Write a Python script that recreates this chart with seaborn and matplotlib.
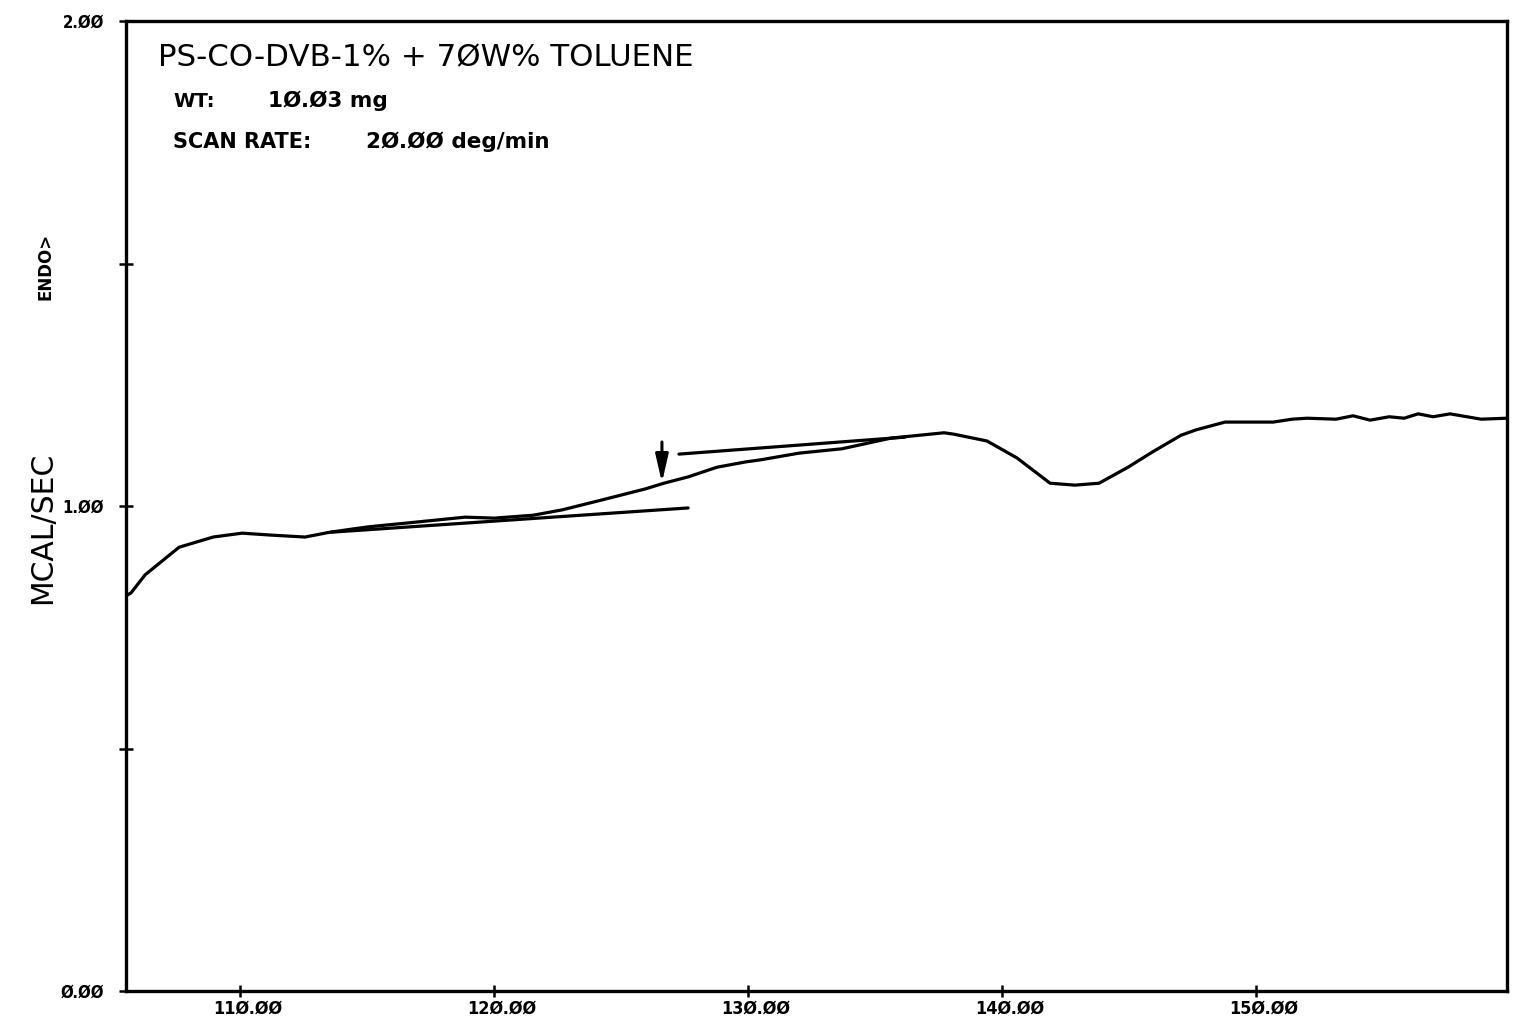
import numpy as np
import pandas as pd
import matplotlib
matplotlib.use("Agg")
import matplotlib.pyplot as plt
import matplotlib.transforms as mtransforms
from matplotlib.ticker import FixedLocator, FuncFormatter
import seaborn as sns

# DSC trace: temperature (deg) vs heat flow (mcal/sec)
temperature = [105.55, 105.71, 106.26, 107.60, 108.94, 110.08, 111.22, 112.56,
               113.54, 115.04, 116.97, 118.86, 120.00, 121.54, 122.68, 124.21,
               125.94, 126.69, 127.64, 128.78, 129.92, 130.47, 132.01, 133.70,
               135.63, 137.72, 138.11, 139.41, 140.59, 141.89, 142.87, 143.82,
               144.96, 145.91, 147.05, 147.64, 148.78, 150.67, 151.42, 152.01,
               153.15, 153.82, 154.49, 155.24, 155.83, 156.38, 156.97, 157.64,
               158.86, 159.88]
heat_flow = [0.816, 0.821, 0.858, 0.915, 0.936, 0.944, 0.940, 0.936,
             0.946, 0.957, 0.967, 0.977, 0.975, 0.981, 0.992, 1.012,
             1.035, 1.047, 1.060, 1.080, 1.091, 1.095, 1.109, 1.118,
             1.140, 1.151, 1.148, 1.134, 1.099, 1.047, 1.043, 1.047,
             1.080, 1.111, 1.146, 1.157, 1.173, 1.173, 1.179, 1.181,
             1.179, 1.186, 1.177, 1.184, 1.181, 1.190, 1.184, 1.190,
             1.179, 1.181]

# baseline tangents around the glass transition
lower_tangent_x = [113.6, 127.64]
lower_tangent_y = [0.946, 0.996]
upper_tangent_x = [127.28, 136.18]
upper_tangent_y = [1.107, 1.142]

# Tg marker arrow (x, y_start, y_end)
tg_arrow_x = 126.61
tg_arrow_y = (1.132, 1.048)

x_ticks = [110, 120, 130, 140, 150]
y_ticks = [0.0, 0.5, 1.0, 1.5, 2.0]
y_labeled = [0.0, 1.0, 2.0]

title_text = "PS-CO-DVB-1% + 7ØW% TOLUENE"
weight_label, weight_value = "WT:", "1Ø.Ø3 mg"
rate_label, rate_value = "SCAN RATE:", "2Ø.ØØ deg/min"
y_label = "MCAL/SEC"
endo_label = "ENDO>"

sns.set_theme(style="white")
plt.rcParams["font.family"] = ["DejaVu Sans"]
plt.rcParams["text.color"] = "black"
plt.rcParams["xtick.color"] = "black"
plt.rcParams["ytick.color"] = "black"

W, H = 1519, 1025
fig = plt.figure(figsize=(W / 100, H / 100), dpi=100)
ax = fig.add_axes([126 / W, 1 - 991 / H, (1507 - 126) / W, (991 - 21) / H])

df = pd.DataFrame({"temperature": temperature, "heat_flow": heat_flow})
sns.lineplot(data=df, x="temperature", y="heat_flow", ax=ax, sort=False,
             estimator=None, color="black", linewidth=2.3)
sns.lineplot(x=lower_tangent_x, y=lower_tangent_y, ax=ax, color="black",
             linewidth=2.3, estimator=None)
sns.lineplot(x=upper_tangent_x, y=upper_tangent_y, ax=ax, color="black",
             linewidth=2.3, estimator=None)

ax.annotate("", xy=(tg_arrow_x, tg_arrow_y[1]), xytext=(tg_arrow_x, tg_arrow_y[0]),
            arrowprops=dict(arrowstyle="-|>,head_length=1.4,head_width=0.32",
                            color="black", lw=2.2, shrinkA=0, shrinkB=0))

ax.set_xlim(105.51, 159.88)
ax.set_ylim(0, 2.0)
ax.set_xlabel("")
ax.set_ylabel("")

for side in ["left", "right", "top", "bottom"]:
    ax.spines[side].set_visible(True)
    ax.spines[side].set_color("black")
    ax.spines[side].set_linewidth(2.4)

ax.xaxis.set_major_locator(FixedLocator(x_ticks))
ax.yaxis.set_major_locator(FixedLocator(y_ticks))


def zero_slash(v):
    return f"{v:.2f}".replace("0", "Ø")


ax.xaxis.set_major_formatter(FuncFormatter(lambda v, p: zero_slash(v)))
ax.yaxis.set_major_formatter(
    FuncFormatter(lambda v, p: zero_slash(v) if any(abs(v - t) < 1e-6 for t in y_labeled) else ""))

ax.tick_params(axis="x", direction="inout", length=9, width=1.8, color="black",
               labelcolor="black", bottom=True, pad=2, labelsize=13)
ax.tick_params(axis="y", direction="inout", length=10, width=1.8, color="black",
               labelcolor="black", left=True, pad=11, labelsize=12)
for lab in ax.get_xticklabels() + ax.get_yticklabels():
    lab.set_fontweight("bold")
    lab.set_fontstretch("condensed")
shift = mtransforms.ScaledTranslation(8 / 100, 0, fig.dpi_scale_trans)
for lab in ax.get_xticklabels():
    lab.set_transform(lab.get_transform() + shift)

fig.text(158 / W, 1 - 66 / H, title_text, fontsize=22.2, va="baseline", ha="left",
         color="black")
fig.text(173 / W, 1 - 107 / H, weight_label, fontsize=14, fontweight="bold",
         va="baseline", ha="left", color="black")
fig.text(268 / W, 1 - 107 / H, weight_value, fontsize=15.5, fontweight="bold",
         va="baseline", ha="left", color="black")
fig.text(173 / W, 1 - 148 / H, rate_label, fontsize=15, fontweight="bold",
         va="baseline", ha="left", color="black")
fig.text(366 / W, 1 - 148 / H, rate_value, fontsize=15.5, fontweight="bold",
         va="baseline", ha="left", color="black")

fig.text(43 / W, 1 - 528 / H, y_label, fontsize=21.5, rotation=90, ha="center",
         va="center", color="black")
fig.text(45 / W, 1 - 266 / H, endo_label, fontsize=12, fontweight="bold",
         rotation=90, ha="center", va="center", color="black")

fig.savefig("out.png", dpi=100, facecolor="white")
